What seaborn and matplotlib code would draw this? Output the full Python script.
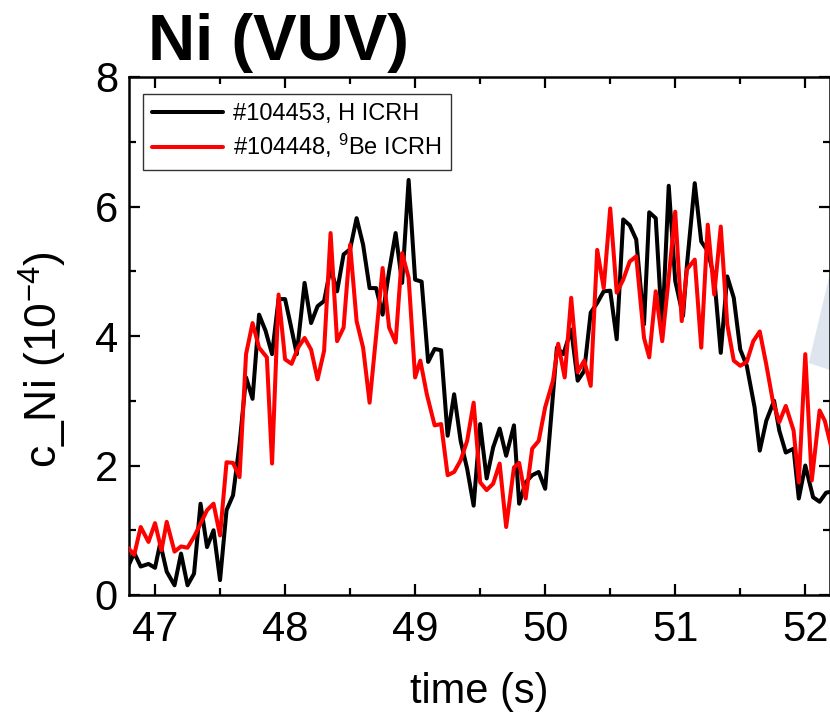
import numpy as np
import pandas as pd
import matplotlib
matplotlib.use("Agg")
import matplotlib.pyplot as plt
from matplotlib.patches import Polygon
from matplotlib.ticker import MultipleLocator
import seaborn as sns

# ---------------- data ----------------
t_h = [46.78, 46.84, 46.89, 46.95, 47.00, 47.04, 47.09, 47.15, 47.20, 47.25,
       47.30, 47.35, 47.40, 47.45, 47.50, 47.55, 47.60, 47.65, 47.70, 47.75,
       47.80, 47.85, 47.90, 47.95, 48.00, 48.04, 48.09, 48.15, 48.20, 48.25,
       48.30, 48.35, 48.40, 48.45, 48.50, 48.55, 48.60, 48.65, 48.70, 48.75,
       48.80, 48.85, 48.90, 48.95, 49.00, 49.05, 49.10, 49.15, 49.20, 49.25,
       49.30, 49.35, 49.40, 49.45, 49.50, 49.55, 49.60, 49.65, 49.70, 49.76,
       49.80, 49.85, 49.90, 49.95, 50.00, 50.09, 50.14, 50.20, 50.25, 50.30,
       50.35, 50.40, 50.45, 50.50, 50.55, 50.60, 50.65, 50.70, 50.76, 50.80,
       50.85, 50.90, 50.95, 51.00, 51.06, 51.09, 51.15, 51.20, 51.25, 51.30,
       51.35, 51.40, 51.45, 51.50, 51.55, 51.61, 51.65, 51.70, 51.76, 51.80,
       51.85, 51.91, 51.95, 52.00, 52.06, 52.11, 52.16, 52.21]
c_h = [0.38, 0.65, 0.44, 0.48, 0.42, 0.80, 0.36, 0.15, 0.64, 0.15,
       0.33, 1.41, 0.74, 1.00, 0.23, 1.31, 1.54, 2.33, 3.36, 3.03,
       4.33, 4.08, 3.72, 4.57, 4.57, 4.20, 3.72, 4.82, 4.20, 4.46,
       4.54, 5.05, 4.69, 5.26, 5.34, 5.82, 5.41, 4.74, 4.74, 4.33,
       5.00, 5.59, 4.82, 6.41, 4.87, 4.84, 3.60, 3.80, 3.78, 2.46,
       3.10, 2.38, 1.95, 1.38, 2.64, 1.80, 2.28, 2.57, 2.15, 2.62,
       1.41, 1.74, 1.85, 1.90, 1.64, 3.82, 3.72, 4.10, 3.31, 3.46,
       4.36, 4.51, 4.69, 4.70, 3.95, 5.80, 5.71, 5.49, 4.18, 5.91,
       5.82, 4.10, 6.32, 4.85, 4.31, 5.10, 6.36, 5.46, 5.31, 4.90,
       3.74, 4.92, 4.59, 3.79, 3.54, 2.90, 2.23, 2.69, 3.00, 2.54,
       2.20, 2.26, 1.49, 2.00, 1.51, 1.44, 1.58, 1.60]

t_be = [46.78, 46.84, 46.89, 46.95, 47.00, 47.05, 47.09, 47.15, 47.20, 47.25,
        47.30, 47.35, 47.40, 47.45, 47.50, 47.55, 47.60, 47.65, 47.70, 47.75,
        47.80, 47.86, 47.90, 47.95, 48.00, 48.05, 48.10, 48.15, 48.20, 48.25,
        48.30, 48.35, 48.40, 48.45, 48.50, 48.55, 48.60, 48.65, 48.70, 48.75,
        48.80, 48.85, 48.90, 48.95, 49.00, 49.04, 49.09, 49.15, 49.20, 49.25,
        49.30, 49.35, 49.40, 49.45, 49.50, 49.55, 49.60, 49.65, 49.70, 49.76,
        49.80, 49.85, 49.90, 49.95, 50.00, 50.06, 50.10, 50.15, 50.20, 50.25,
        50.30, 50.35, 50.40, 50.45, 50.50, 50.55, 50.60, 50.65, 50.70, 50.76,
        50.80, 50.85, 50.90, 50.95, 51.00, 51.05, 51.09, 51.15, 51.20, 51.25,
        51.30, 51.35, 51.40, 51.45, 51.50, 51.55, 51.60, 51.65, 51.70, 51.75,
        51.80, 51.85, 51.91, 51.95, 52.00, 52.05, 52.11, 52.15, 52.21]
c_be = [0.76, 0.62, 1.05, 0.82, 1.11, 0.69, 1.13, 0.67, 0.75, 0.73,
        0.90, 1.10, 1.31, 1.41, 0.92, 2.05, 2.04, 1.82, 3.72, 4.20,
        3.82, 3.67, 2.03, 4.64, 3.64, 3.57, 3.82, 3.97, 3.79, 3.33,
        3.77, 5.59, 3.92, 4.13, 5.41, 4.23, 3.82, 2.97, 4.00, 5.05,
        4.13, 3.90, 5.28, 4.90, 3.36, 3.62, 3.10, 2.62, 2.64, 1.85,
        1.90, 2.08, 2.38, 2.97, 1.74, 1.62, 1.72, 2.03, 1.05, 1.97,
        2.04, 1.49, 2.26, 2.38, 2.90, 3.31, 3.88, 3.36, 4.59, 3.44,
        3.62, 3.23, 5.33, 4.74, 5.97, 4.67, 4.87, 5.15, 5.23, 3.97,
        3.67, 4.69, 3.92, 4.90, 5.92, 4.23, 5.03, 5.18, 3.82, 5.72,
        4.64, 5.69, 4.18, 3.62, 3.54, 3.60, 3.92, 4.07, 3.56, 3.00,
        2.67, 2.92, 2.54, 1.74, 3.72, 1.77, 2.85, 2.69, 2.20]

labels = ["#104453, H ICRH", "#104448, $^{9}$Be ICRH"]
colors = ["#000000", "#ff0000"]

df = pd.concat([
    pd.DataFrame({"time": t_h, "c": c_h, "shot": labels[0]}),
    pd.DataFrame({"time": t_be, "c": c_be, "shot": labels[1]}),
], ignore_index=True)

# ---------------- style ----------------
sns.set_style("ticks")
plt.rcParams["font.family"] = ["Liberation Sans", "DejaVu Sans"]
plt.rcParams["mathtext.fontset"] = "custom"
plt.rcParams["mathtext.rm"] = "Liberation Sans"
plt.rcParams["mathtext.it"] = "Liberation Sans:italic"
plt.rcParams["mathtext.bf"] = "Liberation Sans:bold"
plt.rcParams["text.color"] = "black"
plt.rcParams["axes.labelcolor"] = "black"

fig = plt.figure(figsize=(8.30, 7.16), dpi=100)
ax = fig.add_axes([129 / 830, 1 - 595 / 716, 701 / 830, 518 / 716])

sns.lineplot(data=df, x="time", y="c", hue="shot", palette=colors,
             hue_order=labels, linewidth=2.9, ax=ax, sort=False,
             estimator=None, zorder=3)

# faint decoration at the right edge (part of neighbouring graphic)
tri = Polygon([[808.7 / 830, 1 - 363 / 716], [830 / 830, 1 - 273 / 716],
               [830 / 830, 1 - 370 / 716]], closed=True,
              transform=fig.transFigure, facecolor="#dfe5ef",
              edgecolor="none", zorder=1)
ax.add_patch(tri)

ax.set_xlim(46.8, 52.19)
ax.set_ylim(0, 8)
ax.xaxis.set_major_locator(MultipleLocator(1))
ax.xaxis.set_minor_locator(MultipleLocator(0.5))
ax.yaxis.set_major_locator(MultipleLocator(2))
ax.yaxis.set_minor_locator(MultipleLocator(1))
ax.tick_params(which="both", direction="in", top=True, right=True,
               width=1.6, labelsize=30, colors="black")
ax.tick_params(axis="x", which="major", length=8, pad=11)
ax.tick_params(axis="y", which="major", length=8, pad=8)
ax.tick_params(which="minor", length=5)
for s in ax.spines.values():
    s.set_linewidth(1.8)
    s.set_color("black")

ax.set_xlabel("time (s)", fontsize=30, labelpad=16, color="black")
ax.set_ylabel("c_Ni (10$^{-4}$)", fontsize=32, color="black")
ax.yaxis.set_label_coords(-0.085, 0.455)

fig.text(148 / 830, 1 - 60 / 716, "Ni (VUV)", fontsize=47,
         fontweight="bold", ha="left", va="baseline", color="black")

leg = ax.legend(loc="upper left", bbox_to_anchor=(0.02, 0.968),
                fontsize=17, frameon=True, fancybox=False,
                edgecolor="black", handlelength=3.0, borderpad=0.4,
                labelspacing=0.3, handletextpad=0.4, borderaxespad=0)
leg.get_frame().set_linewidth(1.0)
for txt in leg.get_texts():
    txt.set_color("black")
for ln in leg.get_lines():
    ln.set_linewidth(2.9)

fig.savefig("out.png", dpi=100)
